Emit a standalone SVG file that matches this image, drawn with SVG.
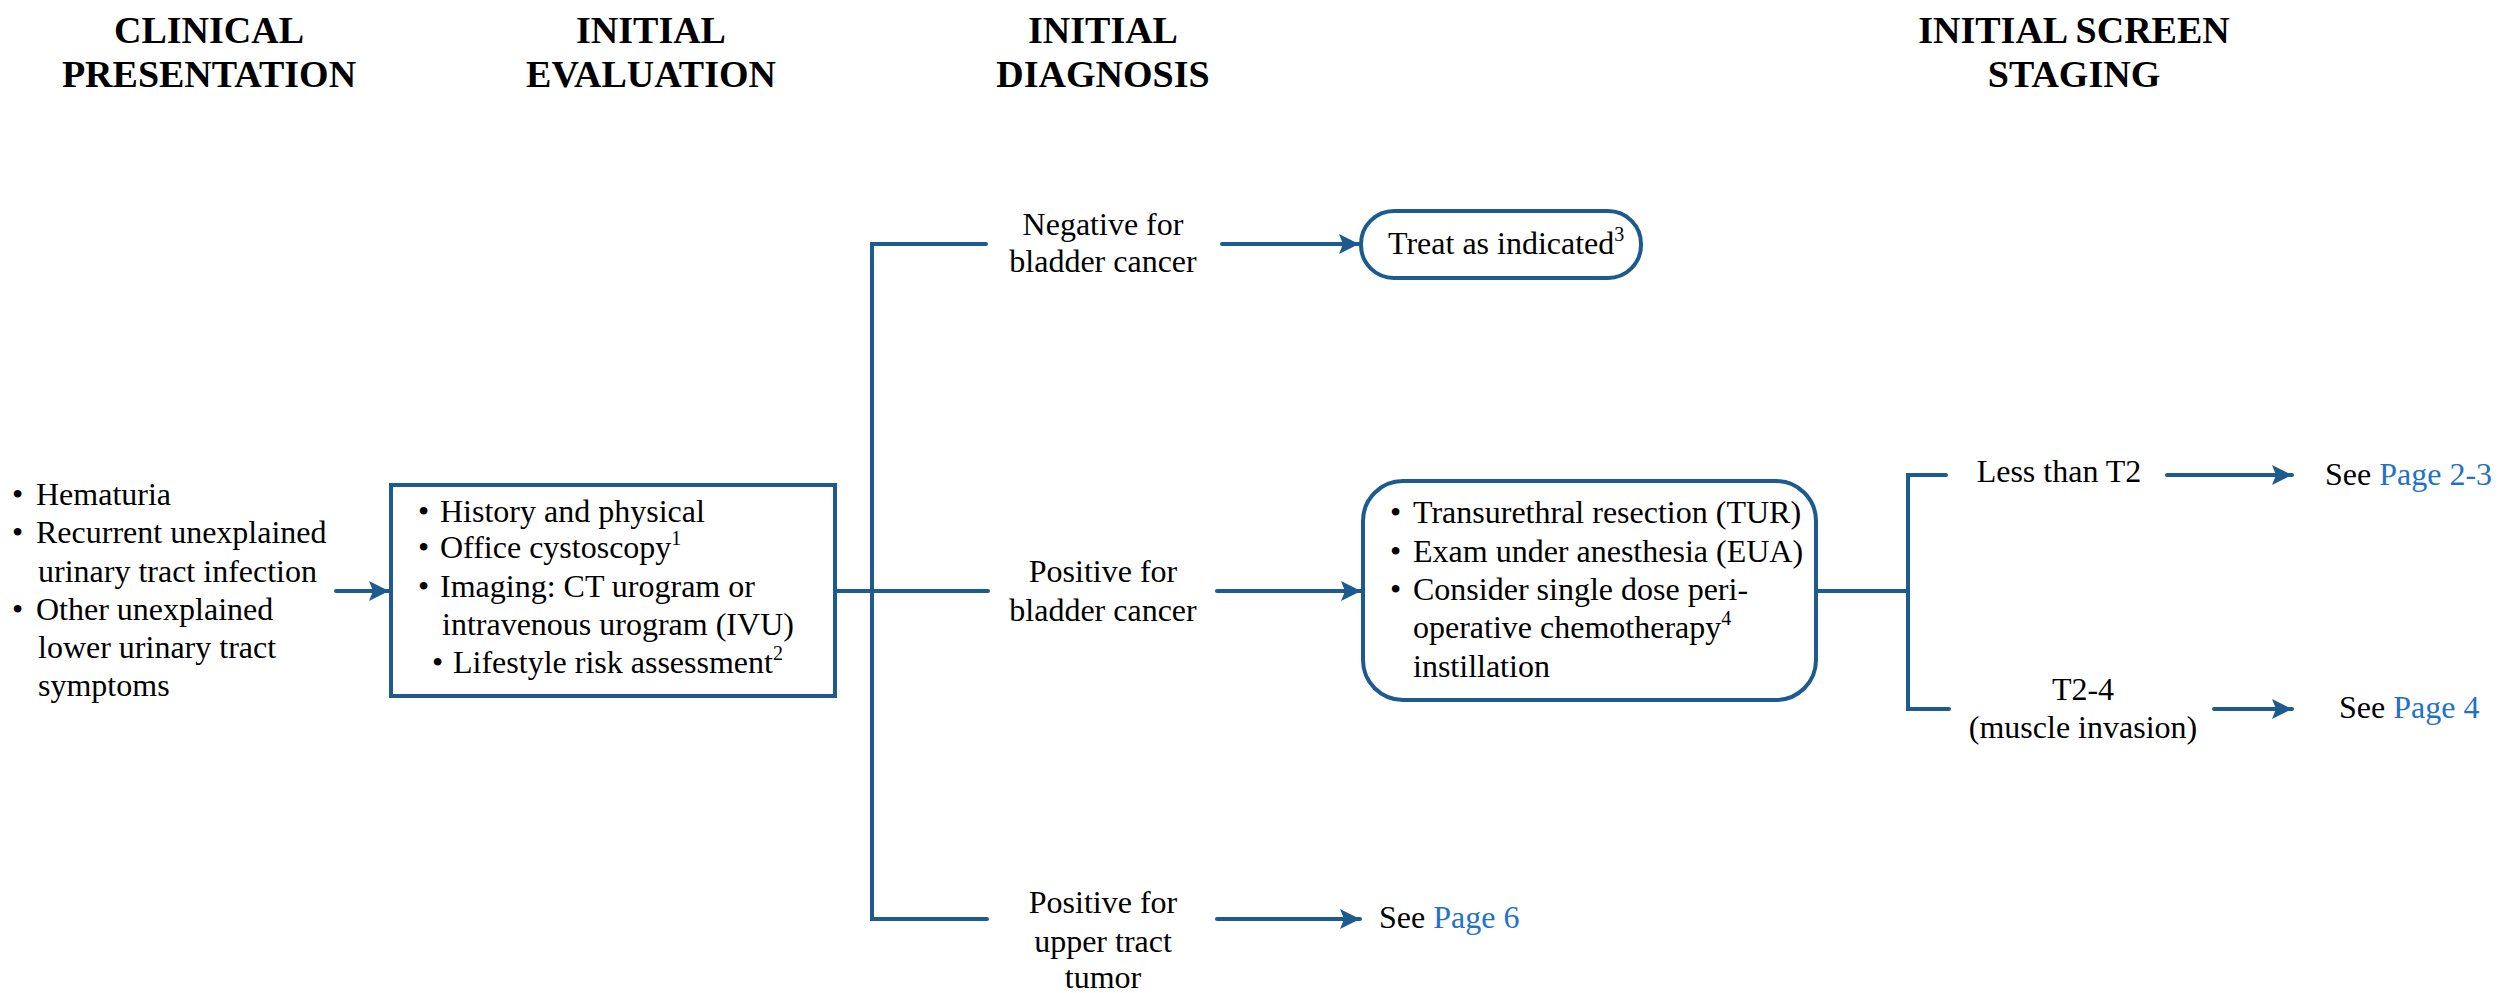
<svg xmlns="http://www.w3.org/2000/svg" width="2500" height="993" viewBox="0 0 2500 993">
<defs>
<style>
text{font-family:"Liberation Serif","Times New Roman",serif;fill:#000;}
.h{font-size:38px;font-weight:bold;text-anchor:middle;}
.t{font-size:32px;}
.c{text-anchor:middle;}
.sup{font-size:20px;}
.lk{fill:#1f72c6;}
.box{fill:none;stroke:#1d5a8e;stroke-width:4;}
.ln{fill:none;stroke:#1d5a8e;stroke-width:4;stroke-linecap:round;}
</style>
<marker id="ah" markerUnits="userSpaceOnUse" markerWidth="22" markerHeight="22" viewBox="0 0 22 22" refX="20" refY="11" orient="auto">
<path d="M0,1 L20,11 L0,21 L4,11 Z" fill="#1d5a8e"/>
</marker>
</defs>
<rect width="2500" height="993" fill="#fff"/>

<g id="headers">
<text class="h" x="209" y="43">CLINICAL</text>
<text class="h" x="209" y="87">PRESENTATION</text>
<text class="h" x="651" y="43">INITIAL</text>
<text class="h" x="651" y="87">EVALUATION</text>
<text class="h" x="1103" y="43">INITIAL</text>
<text class="h" x="1103" y="87">DIAGNOSIS</text>
<text class="h" x="2074" y="43">INITIAL SCREEN</text>
<text class="h" x="2074" y="87">STAGING</text>
</g>

<g id="connectors">
<line class="ln" x1="336" y1="591" x2="389" y2="591" marker-end="url(#ah)"/>
<path class="ln" d="M835,591 H988"/>
<path class="ln" d="M986,244 H872 V919 H987"/>
<line class="ln" x1="1222" y1="244" x2="1359" y2="244" marker-end="url(#ah)"/>
<line class="ln" x1="1217" y1="591" x2="1361" y2="591" marker-end="url(#ah)"/>
<line class="ln" x1="1217" y1="919" x2="1360" y2="919" marker-end="url(#ah)"/>
<path class="ln" d="M1816,591 H1908"/>
<path class="ln" d="M1946,475 H1908 V709 H1949"/>
<line class="ln" x1="2167" y1="475" x2="2292" y2="475" marker-end="url(#ah)"/>
<line class="ln" x1="2214" y1="709" x2="2292" y2="709" marker-end="url(#ah)"/>
</g>

<g id="presentation">
<text class="t" x="12" y="505">•</text><text class="t" x="36" y="505">Hematuria</text>
<text class="t" x="12" y="543">•</text><text class="t" x="36" y="543">Recurrent unexplained</text>
<text class="t" x="38" y="582">urinary tract infection</text>
<text class="t" x="12" y="620">•</text><text class="t" x="36" y="620">Other unexplained</text>
<text class="t" x="38" y="658">lower urinary tract</text>
<text class="t" x="38" y="696">symptoms</text>
</g>

<g id="evaluation">
<rect class="box" x="391" y="485" width="444" height="211"/>
<text class="t" x="418" y="522">•</text><text class="t" x="440" y="522">History and physical</text>
<text class="t" x="418" y="558">•</text><text class="t" x="440" y="558">Office cystoscopy<tspan class="sup" dy="-13">1</tspan></text>
<text class="t" x="418" y="597">•</text><text class="t" x="440" y="597">Imaging: CT urogram or</text>
<text class="t" x="442" y="635">intravenous urogram (IVU)</text>
<text class="t" x="432" y="673">•</text><text class="t" x="453" y="673">Lifestyle risk assessment<tspan class="sup" dy="-13">2</tspan></text>
</g>

<g id="negative">
<text class="t c" x="1103" y="235">Negative for</text>
<text class="t c" x="1103" y="272">bladder cancer</text>
</g>

<g id="treat">
<rect class="box" x="1361" y="211" width="280" height="67" rx="33" ry="33"/>
<text class="t" x="1388" y="254">Treat as indicated<tspan class="sup" dy="-13">3</tspan></text>
</g>

<g id="positive-bladder">
<text class="t c" x="1103" y="582">Positive for</text>
<text class="t c" x="1103" y="621">bladder cancer</text>
</g>

<g id="tur">
<rect class="box" x="1363" y="481" width="453" height="219" rx="40" ry="40"/>
<text class="t" x="1390" y="523">•</text><text class="t" x="1413" y="523">Transurethral resection (TUR)</text>
<text class="t" x="1390" y="562">•</text><text class="t" x="1413" y="562">Exam under anesthesia (EUA)</text>
<text class="t" x="1390" y="600">•</text><text class="t" x="1413" y="600">Consider single dose peri-</text>
<text class="t" x="1413" y="638">operative chemotherapy<tspan class="sup" dy="-13">4</tspan></text>
<text class="t" x="1413" y="677">instillation</text>
</g>

<g id="positive-upper">
<text class="t c" x="1103" y="913">Positive for</text>
<text class="t c" x="1103" y="952">upper tract</text>
<text class="t c" x="1103" y="988">tumor</text>
</g>

<g id="see-page6">
<text class="t" x="1379" y="928">See <tspan class="lk">Page 6</tspan></text>
</g>

<g id="less-t2">
<text class="t c" x="2059" y="482">Less than T2</text>
</g>

<g id="see-page23">
<text class="t" x="2325" y="485">See <tspan class="lk">Page 2-3</tspan></text>
</g>

<g id="t2-4">
<text class="t c" x="2083" y="700">T2-4</text>
<text class="t c" x="2083" y="738">(muscle invasion)</text>
</g>

<g id="see-page4">
<text class="t" x="2339" y="718">See <tspan class="lk">Page 4</tspan></text>
</g>
</svg>
